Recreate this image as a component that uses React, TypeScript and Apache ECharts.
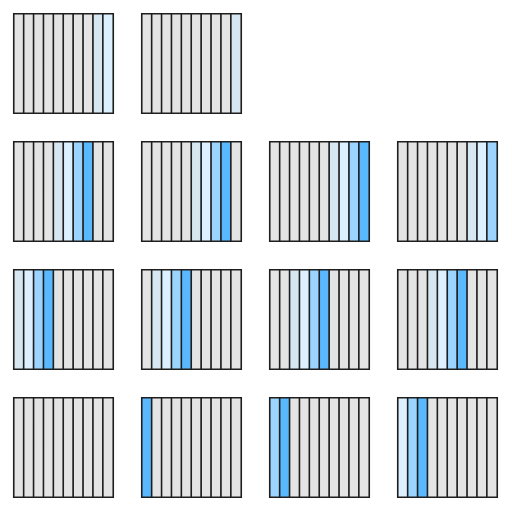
import React, { useEffect, useRef } from "react";
import * as echarts from "echarts";

// cell indices per panel
const cells = ["0", "1", "2", "3", "4", "5", "6", "7", "8", "9"];
// intensity level per cell (0 = idle, 4 = strongest)
const panelRow = [0, 0, 1, 1, 1, 1, 2, 2, 2, 2, 3, 3, 3, 3];
const panelCol = [0, 1, 0, 1, 2, 3, 0, 1, 2, 3, 0, 1, 2, 3];
const panelLevels = [
  [0, 0, 0, 0, 0, 0, 0, 0, 1, 2],
  [0, 0, 0, 0, 0, 0, 0, 0, 0, 1],
  [0, 0, 0, 0, 1, 2, 3, 4, 0, 0],
  [0, 0, 0, 0, 0, 1, 2, 3, 4, 0],
  [0, 0, 0, 0, 0, 0, 1, 2, 3, 4],
  [0, 0, 0, 0, 0, 0, 0, 1, 2, 3],
  [1, 2, 3, 4, 0, 0, 0, 0, 0, 0],
  [0, 1, 2, 3, 4, 0, 0, 0, 0, 0],
  [0, 0, 1, 2, 3, 4, 0, 0, 0, 0],
  [0, 0, 0, 1, 2, 3, 4, 0, 0, 0],
  [0, 0, 0, 0, 0, 0, 0, 0, 0, 0],
  [4, 0, 0, 0, 0, 0, 0, 0, 0, 0],
  [3, 4, 0, 0, 0, 0, 0, 0, 0, 0],
  [2, 3, 4, 0, 0, 0, 0, 0, 0, 0],
];
const levelColors = ["#e4e4e4", "#d7e7f1", "#ddf0ff", "#9ad4ff", "#5ab8ff"];

export default function App() {
  const ref = useRef<HTMLDivElement>(null);
  useEffect(() => {
    if (!ref.current) return;
    const chart = echarts.init(ref.current, undefined, { renderer: "svg" });
    const grids: any[] = [];
    const xAxes: any[] = [];
    const yAxes: any[] = [];
    const series: any[] = [];
    panelLevels.forEach((levels, i) => {
      grids.push({
        left: 14 + panelCol[i] * 128,
        top: 14 + panelRow[i] * 128,
        width: 99,
        height: 99,
        show: false,
      });
      xAxes.push({
        type: "category",
        data: cells,
        gridIndex: i,
        show: false,
      });
      yAxes.push({
        type: "category",
        data: ["0"],
        gridIndex: i,
        show: false,
      });
      series.push({
        type: "heatmap",
        xAxisIndex: i,
        yAxisIndex: i,
        data: levels.map((v, x) => [x, 0, v]),
        itemStyle: { borderColor: "#1e1e1e", borderWidth: 1.6 },
        emphasis: { disabled: true },
        label: { show: false },
      });
    });
    chart.setOption({
      animation: false,
      backgroundColor: "#ffffff",
      grid: grids,
      xAxis: xAxes,
      yAxis: yAxes,
      visualMap: {
        type: "piecewise",
        show: false,
        dimension: 2,
        pieces: levelColors.map((c, v) => ({ value: v, color: c })),
      },
      series,
    });
    return () => chart.dispose();
  }, []);
  return (
    <div
      ref={ref}
      style={{ position: "absolute", left: 0, top: 0, width: 512, height: 512 }}
    />
  );
}
